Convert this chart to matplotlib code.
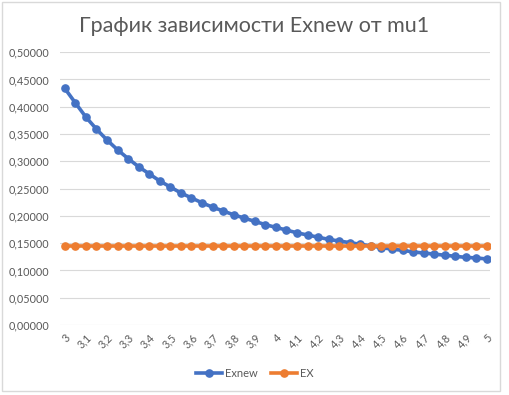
import matplotlib
matplotlib.use("Agg")
import matplotlib.pyplot as plt
from matplotlib.patches import Rectangle
from matplotlib.ticker import FuncFormatter

# значения mu1 (шаг 0.05), подписи - через одну
mu1 = [3.00, 3.05, 3.10, 3.15, 3.20, 3.25, 3.30, 3.35, 3.40, 3.45,
       3.50, 3.55, 3.60, 3.65, 3.70, 3.75, 3.80, 3.85, 3.90, 3.95,
       4.00, 4.05, 4.10, 4.15, 4.20, 4.25, 4.30, 4.35, 4.40, 4.45,
       4.50, 4.55, 4.60, 4.65, 4.70, 4.75, 4.80, 4.85, 4.90, 4.95, 5.00]
x_labels = ["3", "3,1", "3,2", "3,3", "3,4", "3,5", "3,6", "3,7", "3,8", "3,9", "4",
            "4,1", "4,2", "4,3", "4,4", "4,5", "4,6", "4,7", "4,8", "4,9", "5"]

exnew = [0.4335, 0.407, 0.381, 0.359, 0.339, 0.321, 0.305, 0.290, 0.277, 0.264,
         0.253, 0.242, 0.233, 0.224, 0.216, 0.209, 0.202, 0.196, 0.190, 0.184,
         0.179, 0.174, 0.169, 0.165, 0.161, 0.157, 0.154, 0.151, 0.148, 0.145,
         0.142, 0.139, 0.137, 0.134, 0.132, 0.130, 0.128, 0.126, 0.124, 0.123, 0.121]
ex = [0.1452, 0.1452, 0.1452, 0.1452, 0.1452, 0.1452, 0.1452, 0.1452, 0.1452, 0.1452,
      0.1452, 0.1452, 0.1452, 0.1452, 0.1452, 0.1452, 0.1452, 0.1452, 0.1452, 0.1452,
      0.1452, 0.1452, 0.1452, 0.1452, 0.1452, 0.1452, 0.1452, 0.1452, 0.1452, 0.1452,
      0.1452, 0.1452, 0.1452, 0.1452, 0.1452, 0.1452, 0.1452, 0.1452, 0.1452, 0.1452, 0.1452]

plt.rcParams['font.family'] = ['Lato', 'DejaVu Sans']
txt = '#595959'

fig = plt.figure(figsize=(5.09, 3.95), dpi=100)
ax = fig.add_axes([0.118, 0.177, 0.845, 0.691])

idx = list(range(len(mu1)))
ax.plot(idx, exnew, color='#4472C4', lw=2.6, marker='o', ms=5.2, label='Exnew', zorder=3)
ax.plot(idx, ex, color='#ED7D31', lw=2.6, marker='o', ms=5.2, label='EX', zorder=3)

ax.set_xlim(-0.45, 40.3)
ax.set_ylim(0, 0.5)
ax.set_yticks([i * 0.05 for i in range(11)])
ax.yaxis.set_major_formatter(FuncFormatter(lambda v, p: ('%.5f' % v).replace('.', ',')))
ax.set_xticks(idx[::2])
ax.set_xticklabels(x_labels, rotation=45, ha='right', va='top', rotation_mode='anchor')

ax.grid(axis='y', color='#D9D9D9', lw=0.8)
ax.set_axisbelow(True)
for s in ax.spines.values():
    s.set_visible(False)
ax.tick_params(axis='both', length=0, colors=txt, labelsize=7.8)
ax.tick_params(axis='y', pad=8)
ax.tick_params(axis='x', pad=5)

fig.text(0.5, 0.935, 'График зависимости Exnew от mu1', ha='center', va='center',
         fontsize=15.5, color=txt)

fig.legend(loc='center', bbox_to_anchor=(0.5, 0.055), ncol=2, frameon=False,
           fontsize=8, labelcolor=txt, handlelength=2.4, handletextpad=0.2,
           columnspacing=1.2)

fig.patches.append(Rectangle((0.004, 0.01), 0.978, 0.985, transform=fig.transFigure,
                             fill=False, edgecolor='#D9D9D9', lw=1))

fig.savefig('out.png', dpi=100)
